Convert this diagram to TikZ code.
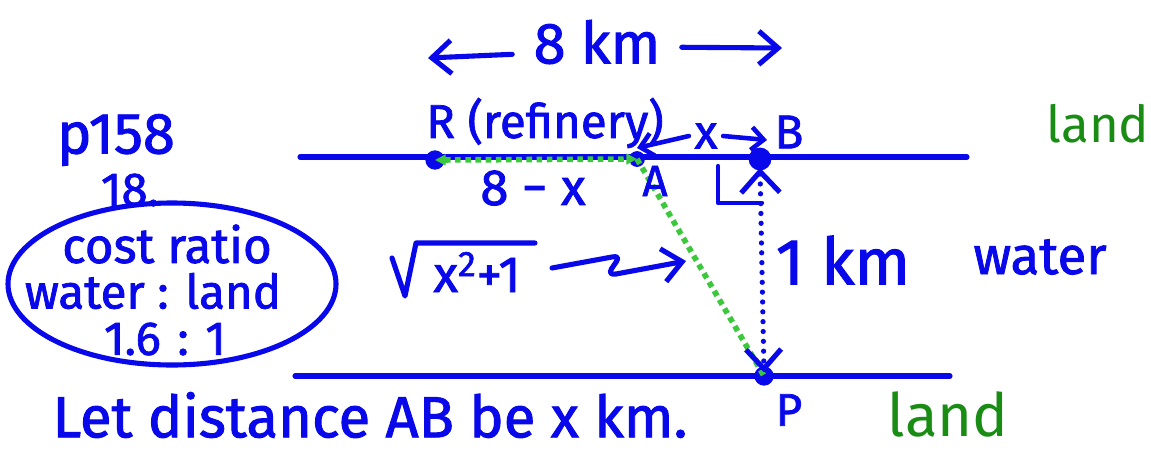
\documentclass[tikz,border=0pt]{standalone}
\usepackage{fontspec}
\setmainfont{Fira Sans}
\newfontfamily\penfont{Fira Sans}[FakeBold=1.6]
\usetikzlibrary{arrows.meta}
\definecolor{pen}{RGB}{8,8,235}
\definecolor{landgreen}{RGB}{25,140,20}
\definecolor{dotgreen}{RGB}{60,200,60}
\tikzset{
  ink/.style={draw=pen, line width=2.9pt, line cap=round, line join=round},
  lbl/.style={text=pen, inner sep=0pt, font=\penfont\fontsize{#1}{#1}\selectfont},
  glbl/.style={text=landgreen, inner sep=0pt, font=\fontsize{#1}{#1}\selectfont},
  ptdot/.style={circle, fill=pen, inner sep=0pt, minimum size=#1},
  gpath/.style={draw=dotgreen, line width=3.2pt, dash pattern=on 3.2pt off 2.6pt},
  bpath/.style={draw=pen, line width=3pt, line cap=round, dash pattern=on 0pt off 5.6pt},
  barb/.tip={Straight Barb[length=11pt, width=19pt, line width=2.9pt]},
  sbarb/.tip={Straight Barb[length=7pt, width=13pt, line width=2.6pt]},
  gtip/.tip={Triangle[length=6pt, width=6pt, fill=dotgreen, color=dotgreen]},
}
\begin{document}
\begin{tikzpicture}[x=0.02cm, y=-0.02cm]
\useasboundingbox (0,0) rectangle (1151,453);

% shore lines
\coordinate (tl) at (300,157);
\coordinate (tr) at (967,157);
\coordinate (bl) at (295,376);
\coordinate (br) at (950,376);
\draw[ink] (tl) -- (tr);
\draw[ink] (bl) -- (br);

% points
\node[ptdot=11pt] (R) at (435,160) {};
\node[ptdot=9pt] (A) at (637,159) {};
\node[ptdot=13pt] (B) at (760,159) {};
\node[ptdot=11pt] (P) at (764,376) {};

% green dotted path
\draw[gpath, gtip-gtip] (R.center) -- (A.center);
\draw[gpath] (A.center) -- (P.center);

% blue dotted perpendicular with chevron tips
\draw[bpath, {Straight Barb[length=12pt, width=22pt, line width=2.9pt]}-{Straight Barb[length=11pt, width=20pt, line width=2.9pt]}] ([yshift=-5pt]B.center) -- ([yshift=2pt]P.center);

% right angle mark
\coordinate (ra1) at (718,166);
\coordinate (ra2) at (718,203);
\coordinate (ra3) at (762,203);
\draw[ink, line width=2.5pt] (ra1) -- (ra2) -- (ra3);

% 8 km
\node[lbl=33] (eight) at (597,42) {8 km};
\coordinate (e1) at (428,58);
\coordinate (e2) at (782,48);
\draw[ink, -barb] ([xshift=-12pt, yshift=-7pt]eight.west) -- (e1);
\draw[ink, -barb] ([xshift=12pt, yshift=-3pt]eight.east) -- (e2);

% labels
\node[lbl=27] (Rl) at (545,123) {R (refinery)};
\node[lbl=27] (Bl) at (789,132) {B};
\node[lbl=25] (Al) at (655,181) {A};
\node[lbl=29] (amx) at (533,188) {8 − x};
\node[lbl=27] (xl) at (706,136) {x};
\coordinate (xa1) at (637,148);
\coordinate (xa2) at (767,140);
\draw[ink, line width=2.6pt, -sbarb] ([xshift=-3pt]xl.west) -- (xa1);
\draw[ink, line width=2.6pt, -sbarb] ([xshift=3pt]xl.east) -- (xa2);

% sqrt(x^2+1)
\node[lbl=29] (rad) at (477,272) {x\textsuperscript{2}+1};
\coordinate (r1) at (392,258);
\coordinate (r2) at (405,296);
\coordinate (r3) at (416,243);
\coordinate (r4) at (535,243);
\draw[ink] (r1) -- (r2) -- (r3) -- (r4);
\coordinate (sq) at (686,261);
\draw[ink, -barb] (552,268) -- (612,257) .. controls (630,254) and (598,276) .. (616,274) -- (sq);

\node[lbl=37] (onekm) at (843,260) {1 km};
\node[lbl=30] (water) at (1040,257) {water};
\node[glbl=29] (land1) at (1098,124) {land};
\node[glbl=34] (land2) at (948,414) {land};
\node[lbl=26] (Pl) at (789,410) {P};

% left notes
\node[lbl=33] (page) at (116,140) {p158};
\node[lbl=27] (qn) at (130,190) {18.};
\draw[ink] (172,284) ellipse [x radius=164, y radius=81];
\node[lbl=28] (c1) at (167,244) {cost ratio};
\node[lbl=27] (c2) at (153,291) {water : land};
\node[lbl=27] (c3) at (165,339) {1.6\hspace{0.35em}:\hspace{0.35em}1};

\node[lbl=33] (let) at (370,415) {Let distance AB be x km.};
\end{tikzpicture}
\end{document}
